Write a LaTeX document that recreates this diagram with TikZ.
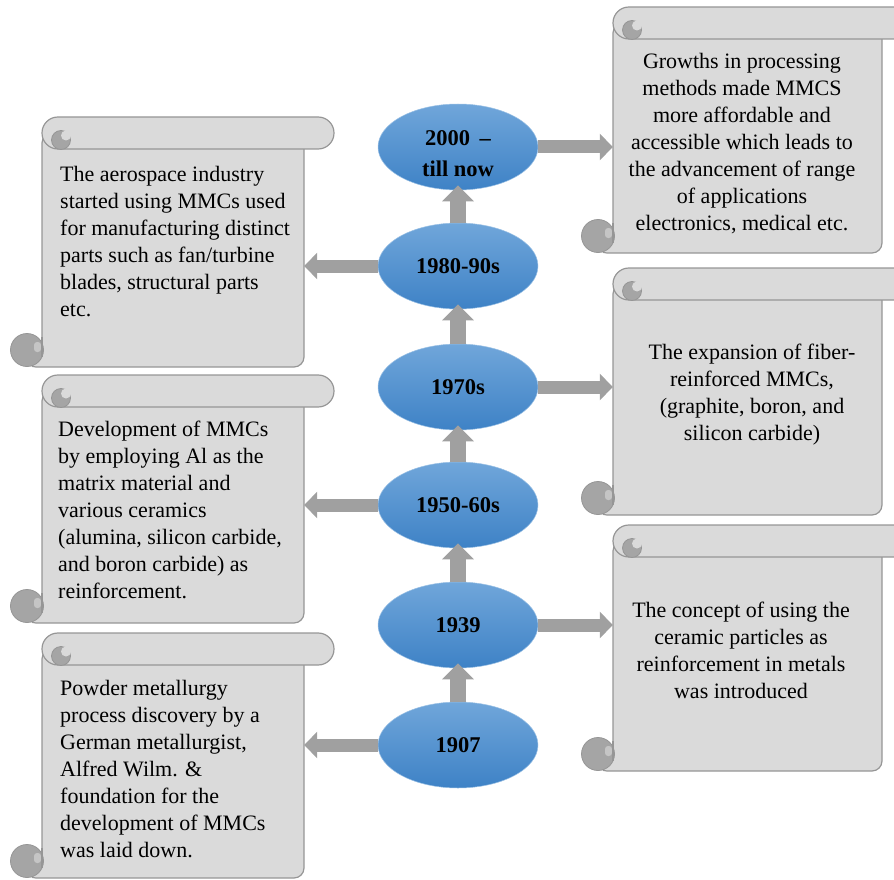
\documentclass[tikz,border=0pt]{standalone}
\usepackage{fontspec}
\setmainfont{Liberation Serif}
\usetikzlibrary{shapes.geometric,arrows.meta,calc,fit}

\definecolor{scrollfill}{RGB}{218,218,218}
\definecolor{scrolledge}{RGB}{150,150,150}
\definecolor{curlfill}{RGB}{165,165,165}
\definecolor{arrowgray}{RGB}{160,160,160}
\definecolor{bluetop}{RGB}{112,166,218}
\definecolor{bluebot}{RGB}{62,130,198}

\tikzset{
  scrollbody/.style={fill=scrollfill, draw=scrolledge, line width=1.2pt},
  curl/.style={fill=curlfill, draw=scrolledge, line width=0.8pt},
  eralabel/.style={font=\fontsize{22.5}{31}\selectfont\bfseries, align=center, inner sep=0pt},
  era/.style={ellipse, minimum width=160pt, minimum height=86pt, inner sep=0pt,
    top color=bluetop, bottom color=bluebot, draw=bluetop!70!white, line width=0.5pt,
    eralabel},
  lefttext/.style={anchor=west, align=left, font=\fontsize{22}{27}\selectfont, inner sep=0pt},
  righttext/.style={anchor=center, align=center, font=\fontsize{22}{27}\selectfont, inner sep=0pt},
  uparrow/.style={draw=arrowgray, line width=16pt, -{Triangle[width=31pt,length=16pt]}},
  sidearrow/.style={draw=arrowgray, line width=13pt, -{Triangle[width=26pt,length=13pt]}},
}

% Scroll: name, left, top, body right, bottom
\newcommand\scrollshape[5]{%
  \pgfmathsetmacro\sL{#2}\pgfmathsetmacro\sT{#3}%
  \pgfmathsetmacro\sR{#4}\pgfmathsetmacro\sB{#5}%
  % sheet
  \filldraw[scrollbody, rounded corners=10pt]
    (\sL,\sT+16) -- (\sL,\sB-16) -- (\sL-16,\sB) -- (\sR,\sB) -- (\sR,\sT+16) -- cycle;
  % top roll
  \filldraw[scrollbody, rounded corners=15.9pt] (\sL,\sT) rectangle (\sR+30,\sT+32);
  % top-left curl
  \filldraw[curl] (\sL+19,\sT+23) circle (9.5);
  \fill[scrollfill] (\sL+24,\sT+18.5) circle (5);
  % bottom-left curl
  \filldraw[curl] (\sL-15,\sB-17) circle (16.5);
  \fill[scrollfill!60!curlfill, rounded corners=3pt] (\sL-8,\sB-25) rectangle (\sL-1,\sB-15);
  \draw[scrolledge, line width=1.2pt] (\sL,\sB-30) -- (\sL,\sB-10);
  \coordinate (#1-nw) at (\sL,\sT+16);
  \coordinate (#1-se) at (\sR,\sB);
  \node[fit=(#1-nw)(#1-se), inner sep=0pt] (#1) {};
}

\begin{document}
\begin{tikzpicture}[x=1pt,y=-1pt]
\useasboundingbox (0,0) rectangle (894,880);
\clip (0,0) rectangle (894,880);

% scrolls
\scrollshape{L1}{42}{117}{304}{367}
\scrollshape{L2}{42}{375}{304}{623}
\scrollshape{L3}{42}{633}{304}{878}
\scrollshape{R1}{613}{7}{882}{253}
\scrollshape{R2}{613}{268}{882}{515}
\scrollshape{R3}{613}{525}{882}{771}

% scroll texts
\node[lefttext] (tL1) at (60,242) {The aerospace industry\\started using MMCs used\\for manufacturing distinct\\parts such as fan/turbine\\blades, structural parts\\etc.};
\node[lefttext] (tL2) at (58,510) {Development of MMCs\\by employing Al as the\\matrix material and\\various ceramics\\(alumina, silicon carbide,\\and boron carbide) as\\reinforcement.};
\node[lefttext] (tL3) at (60,769) {Powder metallurgy\\process discovery by a\\German metallurgist,\\Alfred Wilm. \&\\foundation for the\\development of MMCs\\was laid down.};
\node[righttext] (tR1) at (742,144) {Growths in processing\\methods made MMCS\\more affordable and\\accessible which leads to\\the advancement of range\\of applications\\electronics, medical etc.};
\node[righttext] (tR2) at (752,395) {The expansion of fiber-\\reinforced MMCs,\\(graphite, boron, and\\silicon carbide)};
\node[righttext] (tR3) at (741,650) {The concept of using the\\ceramic particles as\\reinforcement in metals\\was introduced};

% timeline
\node[era] (e2000) at (458,147) {};
\node[eralabel] (e2000-text) at (458,154) {2000 \,–\\till now};
\node[era] (e1980) at (458,266) {1980-90s};
\node[era] (e1970) at (458,387) {1970s};
\node[era] (e1950) at (458,505) {1950-60s};
\node[era] (e1939) at (458,625) {1939};
\node[era] (e1907) at (458,745) {1907};

% upward links
\draw[uparrow] (e1907) -- ($(e1939.south)+(0,-5)$);
\draw[uparrow] (e1939) -- ($(e1950.south)+(0,-5)$);
\draw[uparrow] (e1950) -- ($(e1970.south)+(0,-5)$);
\draw[uparrow] (e1970) -- ($(e1980.south)+(0,-5)$);
\draw[uparrow] (e1980) -- ($(e2000.south)+(0,-5)$);

% side links
\draw[sidearrow] (e2000) -- (e2000 -| R1.west);
\draw[sidearrow] (e1980) -- (e1980 -| L1.east);
\draw[sidearrow] (e1970) -- (e1970 -| R2.west);
\draw[sidearrow] (e1950) -- (e1950 -| L2.east);
\draw[sidearrow] (e1939) -- (e1939 -| R3.west);
\draw[sidearrow] (e1907) -- (e1907 -| L3.east);
\end{tikzpicture}
\end{document}
